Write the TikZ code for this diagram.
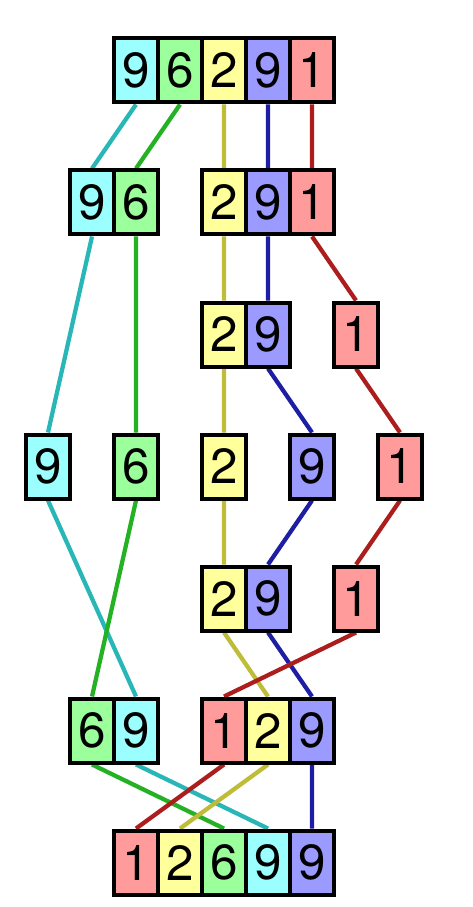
\documentclass[tikz,border=0pt]{standalone}
\usepackage{fontspec}
\setmainfont{TeX Gyre Heros}
\usepackage{xcolor}
\usepackage{tikz}
\usetikzlibrary{backgrounds}

\definecolor{fcyan}{RGB}{155,255,255}
\definecolor{fgreen}{RGB}{155,255,155}
\definecolor{fyellow}{RGB}{255,255,155}
\definecolor{fblue}{RGB}{155,155,255}
\definecolor{fred}{RGB}{255,155,155}
\definecolor{lcyan}{RGB}{40,182,182}
\definecolor{lgreen}{RGB}{36,178,36}
\definecolor{lyellow}{RGB}{190,188,56}
\definecolor{lblue}{RGB}{30,30,165}
\definecolor{lred}{RGB}{172,30,30}

\begin{document}
\begin{tikzpicture}[x=33pt, y=-99pt,
    cell/.style={draw=black, line width=3pt, fill=#1, rectangle, inner sep=0pt,
      minimum width=33pt, minimum height=48pt,
      font=\fontsize{37pt}{37pt}\selectfont},
    wire/.style={line width=3.2pt, #1}]
  \useasboundingbox (-1.091,-0.534) rectangle (9.636,6.337);
  % row 1: input
  \node[cell=fcyan]   (a1) at (2,0) {9};
  \node[cell=fgreen]  (a2) at (3,0) {6};
  \node[cell=fyellow] (a3) at (4,0) {2};
  \node[cell=fblue]   (a4) at (5,0) {9};
  \node[cell=fred]    (a5) at (6,0) {1};
  % row 2: first split
  \node[cell=fcyan]   (b1) at (1,1) {9};
  \node[cell=fgreen]  (b2) at (2,1) {6};
  \node[cell=fyellow] (b3) at (4,1) {2};
  \node[cell=fblue]   (b4) at (5,1) {9};
  \node[cell=fred]    (b5) at (6,1) {1};
  % row 3
  \node[cell=fyellow] (c3) at (4,2) {2};
  \node[cell=fblue]   (c4) at (5,2) {9};
  \node[cell=fred]    (c5) at (7,2) {1};
  % row 4: single elements
  \node[cell=fcyan]   (d1) at (0,3) {9};
  \node[cell=fgreen]  (d2) at (2,3) {6};
  \node[cell=fyellow] (d3) at (4,3) {2};
  \node[cell=fblue]   (d4) at (6,3) {9};
  \node[cell=fred]    (d5) at (8,3) {1};
  % row 5
  \node[cell=fyellow] (e3) at (4,4) {2};
  \node[cell=fblue]   (e4) at (5,4) {9};
  \node[cell=fred]    (e5) at (7,4) {1};
  % row 6: merged halves
  \node[cell=fgreen]  (f2) at (1,5) {6};
  \node[cell=fcyan]   (f1) at (2,5) {9};
  \node[cell=fred]    (f5) at (4,5) {1};
  \node[cell=fyellow] (f3) at (5,5) {2};
  \node[cell=fblue]   (f4) at (6,5) {9};
  % row 7: output
  \node[cell=fred]    (g5) at (2,6) {1};
  \node[cell=fyellow] (g3) at (3,6) {2};
  \node[cell=fgreen]  (g2) at (4,6) {6};
  \node[cell=fcyan]   (g1) at (5,6) {9};
  \node[cell=fblue]   (g4) at (6,6) {9};
  \begin{pgfonlayer}{background}
    \draw[wire=lcyan] (a1.south) -- (b1.north) (b1.south) -- (d1.north)
      (d1.south) -- (f1.north) (f1.south) -- (g1.north);
    \draw[wire=lgreen] (a2.south) -- (b2.north) (b2.south) -- (d2.north)
      (d2.south) -- (f2.north) (f2.south) -- (g2.north);
    \draw[wire=lyellow] (a3.south) -- (b3.north) (b3.south) -- (c3.north)
      (c3.south) -- (d3.north) (d3.south) -- (e3.north)
      (e3.south) -- (f3.north) (f3.south) -- (g3.north);
    \draw[wire=lblue] (a4.south) -- (b4.north) (b4.south) -- (c4.north)
      (c4.south) -- (d4.north) (d4.south) -- (e4.north)
      (e4.south) -- (f4.north) (f4.south) -- (g4.north);
    \draw[wire=lred] (a5.south) -- (b5.north) (b5.south) -- (c5.north)
      (c5.south) -- (d5.north) (d5.south) -- (e5.north)
      (e5.south) -- (f5.north) (f5.south) -- (g5.north);
  \end{pgfonlayer}
\end{tikzpicture}
\end{document}
